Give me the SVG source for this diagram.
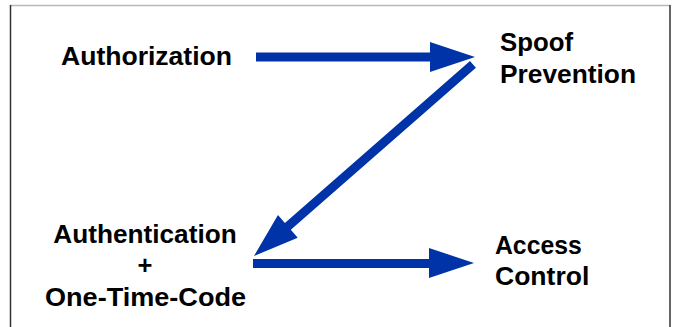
<svg xmlns="http://www.w3.org/2000/svg" width="675" height="327" viewBox="0 0 675 327">
<style>
.lbl{font-family:"Liberation Sans",Arial,sans-serif;font-weight:bold;font-size:25.5px;fill:#000}
.arr{fill:#0033A8}
</style>
<rect x="0" y="0" width="675" height="327" fill="#fff"/>
<g id="frame">
<line x1="10" y1="5.5" x2="670" y2="5.5" stroke="#b8b8b8" stroke-width="1.5"/>
<line x1="10.5" y1="5" x2="10.5" y2="327" stroke="#333" stroke-width="1.5"/>
<line x1="670" y1="5" x2="670" y2="327" stroke="#333" stroke-width="1.5"/>
</g>
<g id="connectors">
<polygon class="arr" points="256,52.5 430,52.5 430,42 475,57 430,72 430,61.5 256,61.5"/>
<polygon class="arr" points="-291,-4.5 -45,-4.5 -45,-15 0,0 -45,15 -45,4.5 -291,4.5" transform="translate(254,256) rotate(138.8)"/>
<polygon class="arr" points="253,259 429,259 429,248 474,263 429,278 429,268 253,268"/>
</g>
<g id="authorization">
<text class="lbl" x="61" y="64.5" textLength="171" lengthAdjust="spacingAndGlyphs">Authorization</text>
</g>
<g id="spoof-prevention">
<text class="lbl" x="500" y="51" textLength="73" lengthAdjust="spacingAndGlyphs">Spoof</text>
<text class="lbl" x="500" y="82.5" textLength="136" lengthAdjust="spacingAndGlyphs">Prevention</text>
</g>
<g id="authentication">
<text class="lbl" x="53.3" y="242.5" textLength="183.4" lengthAdjust="spacingAndGlyphs">Authentication</text>
<text class="lbl" x="145" y="274" text-anchor="middle">+</text>
<text class="lbl" x="45" y="305.5" textLength="201" lengthAdjust="spacingAndGlyphs">One-Time-Code</text>
</g>
<g id="access-control">
<text class="lbl" x="495" y="253.5" textLength="86.7" lengthAdjust="spacingAndGlyphs">Access</text>
<text class="lbl" x="495" y="285" textLength="94.3" lengthAdjust="spacingAndGlyphs">Control</text>
</g>
</svg>
